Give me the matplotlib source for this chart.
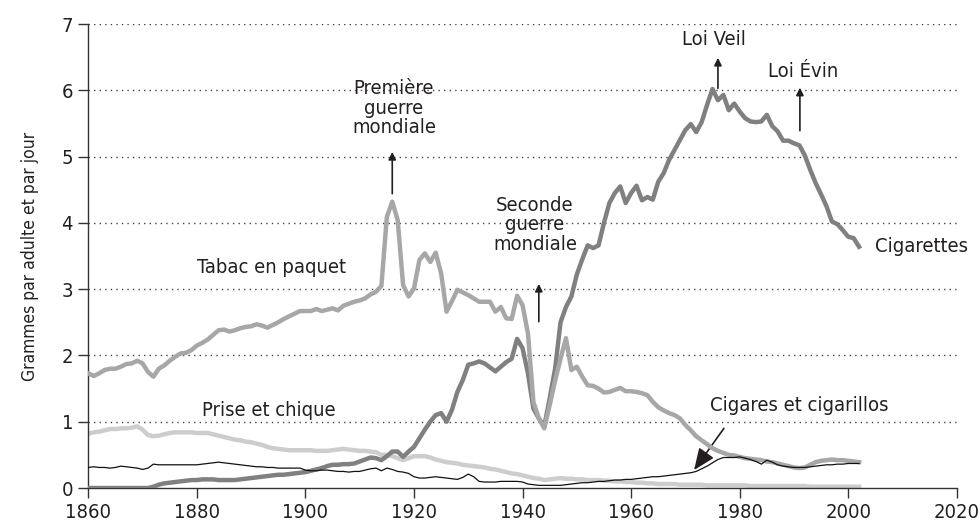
import numpy as np
import matplotlib
matplotlib.use("Agg")
import matplotlib.pyplot as plt

plt.rcParams['font.family'] = ['DejaVu Sans']
plt.rcParams['font.stretch'] = 'condensed'

years = list(range(1860, 2003))

cigarettes = [
    0, 0, 0, 0, 0, 0, 0, 0, 0, 0,
    0, 0, 0.02, 0.05, 0.07, 0.08, 0.09, 0.10, 0.11, 0.12,
    0.12, 0.13, 0.13, 0.13, 0.12, 0.12, 0.12, 0.12, 0.13, 0.14,
    0.15, 0.16, 0.17, 0.18, 0.19, 0.20, 0.20, 0.21, 0.22, 0.23,
    0.24, 0.26, 0.28, 0.30, 0.33, 0.35, 0.35, 0.36, 0.36, 0.37,
    0.40, 0.43, 0.46, 0.45, 0.42, 0.48, 0.55, 0.55, 0.47, 0.55,
    0.62, 0.75, 0.88, 1.00, 1.10, 1.13, 1.00, 1.18, 1.45, 1.63,
    1.86, 1.88, 1.91, 1.88, 1.82, 1.76, 1.83, 1.90, 1.95, 2.25,
    2.11, 1.73, 1.20, 1.05, 0.93, 1.35, 1.80, 2.50, 2.73, 2.89,
    3.22, 3.45, 3.66, 3.62, 3.66, 4.00, 4.30, 4.45, 4.55, 4.30,
    4.45, 4.56, 4.34, 4.39, 4.35, 4.62, 4.75, 4.95, 5.10, 5.25,
    5.40, 5.49, 5.37, 5.52, 5.78, 6.02, 5.85, 5.93, 5.70, 5.80,
    5.68, 5.58, 5.53, 5.52, 5.53, 5.63, 5.46, 5.38, 5.24, 5.24,
    5.20, 5.17, 5.02, 4.80, 4.60, 4.43, 4.25, 4.02, 3.98, 3.89,
    3.79, 3.77, 3.64,
]

tabac = [
    1.73, 1.69, 1.73, 1.78, 1.80, 1.80, 1.83, 1.87, 1.88, 1.92,
    1.88, 1.75, 1.68, 1.80, 1.85, 1.92, 1.98, 2.03, 2.04, 2.08,
    2.15, 2.19, 2.24, 2.31, 2.38, 2.39, 2.36, 2.38, 2.41, 2.43,
    2.44, 2.47, 2.45, 2.42, 2.46, 2.50, 2.55, 2.59, 2.63, 2.67,
    2.67, 2.67, 2.70, 2.67, 2.69, 2.71, 2.68, 2.75, 2.78, 2.81,
    2.83, 2.86, 2.92, 2.96, 3.05, 4.09, 4.32, 4.04, 3.06, 2.89,
    3.01, 3.44, 3.54, 3.41, 3.55, 3.24, 2.66, 2.82, 2.99, 2.95,
    2.91, 2.86, 2.81, 2.81, 2.81, 2.66, 2.73, 2.56, 2.55, 2.90,
    2.76, 2.33, 1.30, 1.05, 0.90, 1.25, 1.62, 1.95, 2.26, 1.78,
    1.83, 1.68, 1.55, 1.54, 1.50, 1.44, 1.45, 1.48, 1.51, 1.46,
    1.46, 1.45, 1.43, 1.40, 1.30, 1.22, 1.17, 1.13, 1.10, 1.05,
    0.95, 0.87, 0.78, 0.72, 0.66, 0.60, 0.56, 0.53, 0.50, 0.49,
    0.47, 0.45, 0.44, 0.43, 0.42, 0.40, 0.39, 0.37, 0.35, 0.33,
    0.31, 0.30, 0.31, 0.35, 0.39, 0.41, 0.42, 0.43, 0.42, 0.42,
    0.41, 0.40, 0.39,
]

prise = [
    0.82, 0.84, 0.85, 0.87, 0.89, 0.89, 0.90, 0.90, 0.91, 0.93,
    0.88, 0.80, 0.78, 0.79, 0.81, 0.83, 0.84, 0.84, 0.84, 0.84,
    0.83, 0.83, 0.83, 0.81, 0.79, 0.77, 0.75, 0.73, 0.72, 0.70,
    0.69, 0.67, 0.65, 0.62, 0.60, 0.59, 0.58, 0.57, 0.57, 0.57,
    0.57, 0.57, 0.56, 0.56, 0.56, 0.57, 0.58, 0.59, 0.58, 0.57,
    0.56, 0.56, 0.55, 0.54, 0.50, 0.50, 0.48, 0.45, 0.42, 0.45,
    0.48, 0.48, 0.48, 0.46, 0.43, 0.41, 0.39, 0.38, 0.37, 0.35,
    0.34, 0.33, 0.32, 0.31, 0.29, 0.28, 0.26, 0.24, 0.22, 0.21,
    0.19, 0.17, 0.15, 0.14, 0.12, 0.13, 0.14, 0.15, 0.14, 0.14,
    0.13, 0.13, 0.12, 0.12, 0.12, 0.11, 0.11, 0.10, 0.10, 0.09,
    0.09, 0.08, 0.08, 0.07, 0.07, 0.06, 0.06, 0.06, 0.06, 0.05,
    0.05, 0.05, 0.05, 0.05, 0.04, 0.04, 0.04, 0.04, 0.04, 0.04,
    0.04, 0.04, 0.03, 0.03, 0.03, 0.03, 0.03, 0.03, 0.03, 0.03,
    0.03, 0.03, 0.03, 0.02, 0.02, 0.02, 0.02, 0.02, 0.02, 0.02,
    0.02, 0.02, 0.02,
]

cigares = [
    0.31, 0.32, 0.31, 0.31, 0.30, 0.31, 0.33, 0.32, 0.31, 0.30,
    0.28, 0.30, 0.36, 0.35, 0.35, 0.35, 0.35, 0.35, 0.35, 0.35,
    0.35, 0.36, 0.37, 0.38, 0.39, 0.38, 0.37, 0.36, 0.35, 0.34,
    0.33, 0.32, 0.32, 0.31, 0.31, 0.30, 0.30, 0.30, 0.30, 0.30,
    0.27, 0.26, 0.26, 0.27, 0.27, 0.26, 0.25, 0.25, 0.24, 0.25,
    0.25, 0.27, 0.29, 0.30, 0.26, 0.30, 0.28, 0.25, 0.24, 0.22,
    0.17, 0.15, 0.15, 0.16, 0.17, 0.16, 0.15, 0.14, 0.13, 0.16,
    0.21, 0.17, 0.10, 0.09, 0.09, 0.09, 0.10, 0.10, 0.10, 0.10,
    0.09, 0.06, 0.05, 0.04, 0.04, 0.04, 0.04, 0.04, 0.05, 0.06,
    0.07, 0.08, 0.08, 0.09, 0.10, 0.10, 0.11, 0.12, 0.12, 0.13,
    0.13, 0.14, 0.15, 0.16, 0.17, 0.17, 0.18, 0.19, 0.20, 0.21,
    0.22, 0.23, 0.25, 0.29, 0.33, 0.38, 0.43, 0.46, 0.46, 0.46,
    0.47, 0.45, 0.43, 0.40, 0.36, 0.42, 0.39, 0.35, 0.33, 0.32,
    0.31, 0.31, 0.31, 0.32, 0.33, 0.34, 0.35, 0.35, 0.36, 0.36,
    0.37, 0.37, 0.37,
]

x_ticks = [1860, 1880, 1900, 1920, 1940, 1960, 1980, 2000, 2020]
y_ticks = [0, 1, 2, 3, 4, 5, 6, 7]

TXT = '#231f20'
FS = 14.5

fig = plt.figure(figsize=(9.8, 5.29), dpi=100)
ax = fig.add_axes([0.0901, 0.0775, 0.8862, 0.8771])

ax.set_xlim(1860, 2020)
ax.set_ylim(0, 7)

for v in y_ticks[1:]:
    ax.axhline(v, color='#444444', lw=1.0, ls=(0, (1, 3)), zorder=1)

ax.plot(years, prise, color='#cdcdcd', lw=3.2, solid_joinstyle='round', zorder=2)
ax.plot(years, cigarettes, color='#808080', lw=3.2, solid_joinstyle='round', zorder=3)
ax.plot(years, tabac, color='#a7a7a7', lw=3.2, solid_joinstyle='round', zorder=4)
ax.plot(years, cigares, color='#111111', lw=0.9, zorder=5)

for s in ['top', 'right']:
    ax.spines[s].set_visible(False)
for s in ['left', 'bottom']:
    ax.spines[s].set_color('#333333')
    ax.spines[s].set_linewidth(1.0)

ax.set_xticks(x_ticks)
ax.set_yticks(y_ticks)
ax.tick_params(direction='out', length=7, width=1.0, color='#333333',
               labelsize=FS, labelcolor=TXT, pad=4)
ax.set_ylabel('Grammes par adulte et par jour', fontsize=12.5, color=TXT, labelpad=16)

ak = dict(arrowstyle='-|>', color='#231f20', lw=1.2, mutation_scale=11, shrinkA=0, shrinkB=0)

ax.text(1916.3, 5.73, 'Première\nguerre\nmondiale', ha='center', va='center',
        fontsize=FS, color=TXT, linespacing=1.05)
ax.annotate('', xy=(1916.0, 5.07), xytext=(1916.0, 4.44), arrowprops=ak)

ax.text(1942.3, 3.97, 'Seconde\nguerre\nmondiale', ha='center', va='center',
        fontsize=FS, color=TXT, linespacing=1.05)
ax.annotate('', xy=(1943.0, 3.08), xytext=(1943.0, 2.51), arrowprops=ak)

ax.text(1975.2, 6.76, 'Loi Veil', ha='center', va='center', fontsize=FS, color=TXT)
ax.annotate('', xy=(1976.0, 6.49), xytext=(1976.0, 6.03), arrowprops=ak)

ax.text(1991.7, 6.29, 'Loi Évin', ha='center', va='center', fontsize=FS, color=TXT)
ax.annotate('', xy=(1991.1, 6.04), xytext=(1991.1, 5.39), arrowprops=ak)

ax.text(2004.9, 3.64, 'Cigarettes', ha='left', va='center', fontsize=FS, color=TXT)
ax.text(1893.7, 3.33, 'Tabac en paquet', ha='center', va='center', fontsize=FS, color=TXT)
ax.text(1893.2, 1.17, 'Prise et chique', ha='center', va='center', fontsize=FS, color=TXT)
ax.text(1990.9, 1.24, 'Cigares et cigarillos', ha='center', va='center', fontsize=FS, color=TXT)
ax.annotate('', xy=(1971.6, 0.27), xytext=(1977.1, 0.90),
            arrowprops=dict(arrowstyle='-|>,head_length=0.6,head_width=0.25', color='#231f20', lw=1.2,
                            mutation_scale=22, shrinkA=0, shrinkB=0))

fig.savefig('out.png', dpi=100)
